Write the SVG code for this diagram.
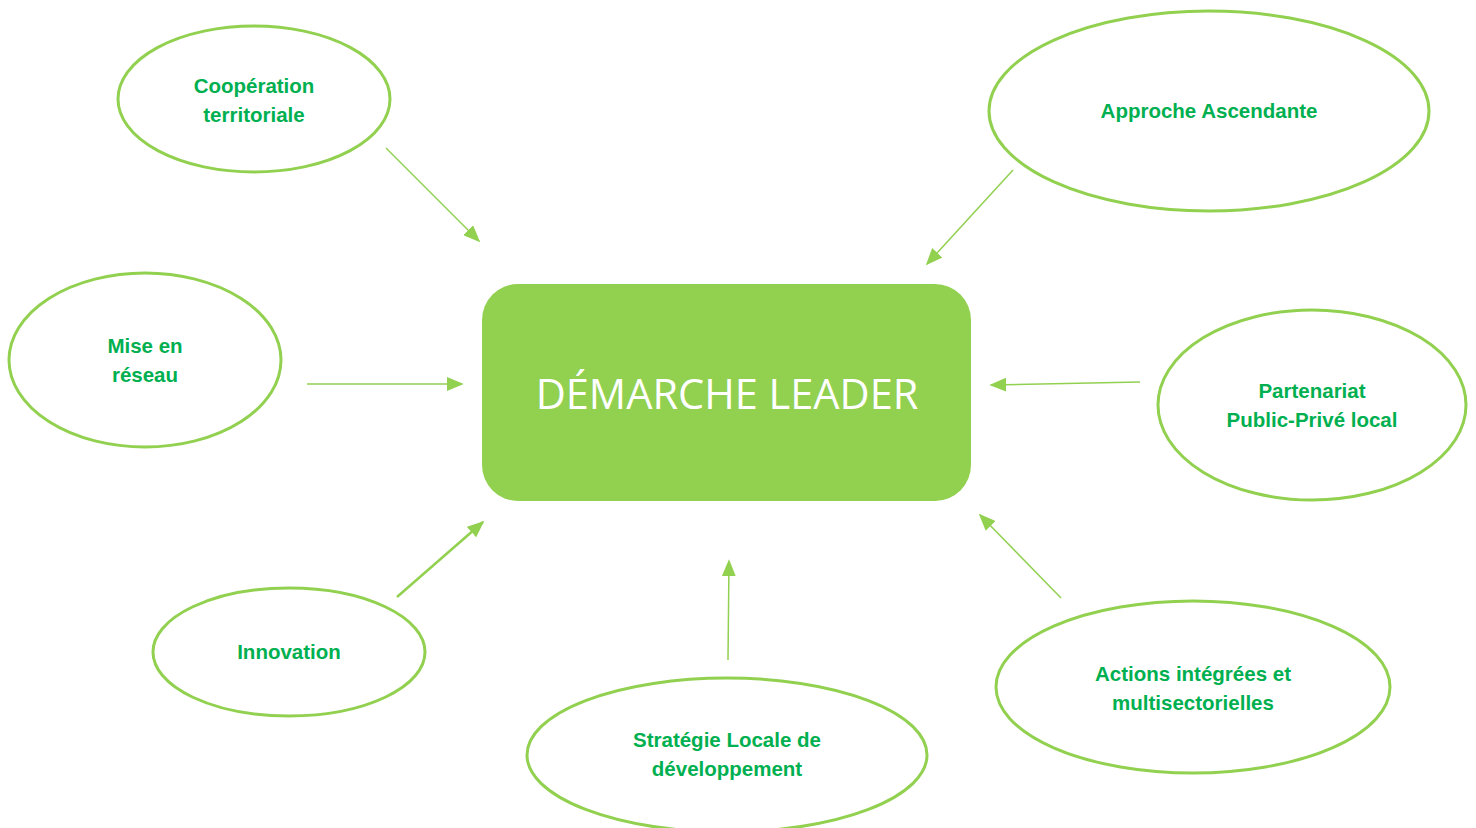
<svg xmlns="http://www.w3.org/2000/svg" width="1476" height="828" viewBox="0 0 1476 828">
<style>
.n ellipse{fill:#fff;stroke:#92D050;stroke-width:3}
.n text{font-family:"Liberation Sans",Arial,sans-serif;font-weight:bold;font-size:20.5px;fill:#00B050;text-anchor:middle}
.c line{stroke:#92D050;stroke-width:1.5;marker-end:url(#ah)}
</style>
<defs>
<marker id="ah" viewBox="0 0 10 10" refX="9" refY="5" markerWidth="17" markerHeight="14" markerUnits="userSpaceOnUse" orient="auto" preserveAspectRatio="none">
<path d="M0,0 L10,5 L0,10 Z" fill="#92D050"/>
</marker>
</defs>
<rect width="1476" height="828" fill="#fff"/>
<g id="center">
<rect x="482" y="284" width="489" height="217" rx="36" fill="#92D050"/>
<text x="727" y="409" font-family="'Open Sans','Liberation Sans',sans-serif" font-size="41.5" fill="#fff" text-anchor="middle">DÉMARCHE LEADER</text>
</g>
<g class="c" id="connectors">
<line x1="386" y1="148" x2="479" y2="241"/>
<line x1="1013" y1="170" x2="927" y2="264"/>
<line x1="307" y1="384" x2="462" y2="384"/>
<line x1="1140" y1="382" x2="991" y2="385"/>
<line x1="397" y1="597" x2="483" y2="522" style="stroke-width:2.5"/>
<line x1="728" y1="660" x2="729" y2="561"/>
<line x1="1061" y1="598" x2="980" y2="515"/>
</g>
<g class="n" id="cooperation">
<ellipse cx="254" cy="99" rx="136" ry="73"/>
<text x="254" y="93">Coopération</text>
<text x="254" y="122">territoriale</text>
</g>
<g class="n" id="approche">
<ellipse cx="1209" cy="111" rx="220" ry="100"/>
<text x="1209" y="118">Approche Ascendante</text>
</g>
<g class="n" id="reseau">
<ellipse cx="145" cy="360" rx="136" ry="87"/>
<text x="145" y="353">Mise en</text>
<text x="145" y="382">réseau</text>
</g>
<g class="n" id="partenariat">
<ellipse cx="1312" cy="405" rx="154" ry="95"/>
<text x="1312" y="398">Partenariat</text>
<text x="1312" y="427">Public-Privé local</text>
</g>
<g class="n" id="innovation">
<ellipse cx="289" cy="652" rx="136" ry="64"/>
<text x="289" y="659">Innovation</text>
</g>
<g class="n" id="strategie">
<ellipse cx="727" cy="755" rx="200" ry="77"/>
<text x="727" y="747">Stratégie Locale de</text>
<text x="727" y="776">développement</text>
</g>
<g class="n" id="actions">
<ellipse cx="1193" cy="687" rx="197" ry="86"/>
<text x="1193" y="681">Actions intégrées et</text>
<text x="1193" y="710">multisectorielles</text>
</g>
</svg>
